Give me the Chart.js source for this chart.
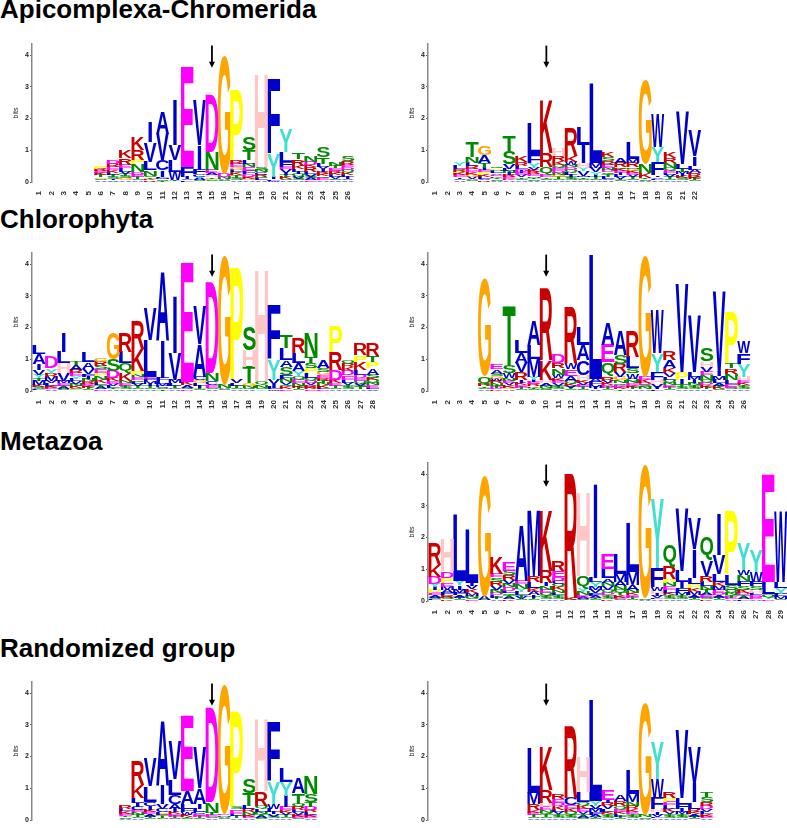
<!DOCTYPE html>
<html>
<head>
<meta charset="utf-8">
<script src="https://cdn.jsdelivr.net/npm/chart.js@4.4.0/dist/chart.umd.min.js"></script>
<style>
html, body { margin: 0; padding: 0; background: #fff; }
body { width: 787px; height: 828px; overflow: hidden; position: relative; font-family: "Liberation Sans", Arial, sans-serif; }
.title { position: absolute; left: 0; font-weight: bold; font-size: 26px; line-height: 26px; color: #000; white-space: nowrap; }
canvas { position: absolute; }
</style>
</head>
<body>
<div class="title" style="top:-4px">Apicomplexa-Chromerida</div>
<div class="title" style="top:206px">Chlorophyta</div>
<div class="title" style="top:428px">Metazoa</div>
<div class="title" style="top:635px">Randomized group</div>

<canvas id="apicoLeft"></canvas>
<canvas id="apicoRight"></canvas>
<canvas id="chloroLeft"></canvas>
<canvas id="chloroRight"></canvas>
<canvas id="metazoaRight"></canvas>
<canvas id="randomLeft"></canvas>
<canvas id="randomRight"></canvas>

<script>
// one string per position, letters listed bottom -> top, number = height in bits
const apicoLeftCols = [
    '', '', '', '', '',
    'A.05 S.05 G.05 T.06 K.06 E.07 R.07 P.09',
    'V.05 I.05 S.06 T.06 L.07 K.08 E.1 R.1 D.13',
    'A.06 G.06 S.06 T.07 V.08 L.1 E.12 R.2 K.26',
    'A.05 S.05 T.07 E.06 D.07 N.25 P.15 R.3 K.4',
    'R.05 K.05 T.05 S.05 N.17 L.26 V.62 I.65',
    'T.04 S.04 M.04 F.05 I.2 C.31 V.84 A.7',
    'S.02 T.03 W.26 L.37 V.5 I1.44',
    'L.05 V.05 I.06 F.31 E3.16',
    'S.05 A.06 Y.06 C.08 F.14 I.78 V1.42',
    'S.05 G.05 T.05 H.06 A.06 E.1 N.58 D1.83',
    'S.05 A.05 N.06 D.1 G3.72',
    'A.07 S.07 T.08 K.08 L.09 G.08 E.1 R.13 P2.2',
    'A.05 G.06 K.06 D.09 F.1 E.1 N.12 L.1 T.31 S.42',
    'A.05 L.06 Q.06 R.06 C.08 N.08 S.08 H2.95',
    'W.04 L.05 I.07 Y.73 F2.39',
    'A.05 S.05 K.06 T.06 I.06 V.12 E.08 F.16 L.3 Y.74',
    'A.05 S.06 V.06 Q.08 I.08 L.08 K.1 R.2 T.18',
    'E.05 A.06 S.06 V.07 L.08 R.14 K.08 D.1 N.2',
    'A.06 E.06 Q.06 K.07 R.08 I.08 V.07 L.1 T.21 S.31',
    'A.05 S.05 V.06 L.06 K.07 R.07 E.07 T.06 N.11',
    'A.05 V.05 I.06 L.07 K.08 Q.08 D.08 E.08 R.12 S.15'
];

const apicoRightCols = [
    '', '',
    'A.05 S.05 I.05 E.06 K.06 P.06 R.07 L.1 Y.12',
    'S.05 A.05 V.06 G.06 K.08 E.1 R.1 L.11 N.18 T.5',
    'R.05 V.05 L.06 K.06 P.08 E.08 I.07 T.16 A.24 G.29',
    'A.04 S.04 T.05 K.05 E.05 V.05 L.06 N.04 P.05 Q.06',
    'A.05 K.05 E.06 R.06 I.06 N.06 L.07 V.15 S.41 T.48',
    'A.05 S.05 T.05 V.06 E.06 I.06 D.07 L.1 R.13 K.22',
    'A.04 S.05 T.05 N.05 E.06 R.06 K.07 V.07 Y.16 F.24 L.99',
    'A.05 S.05 T.05 E.07 Q.24 R.44 K1.66',
    'A.05 S.05 T.06 G.06 N.07 D.08 E.08 Q.08 K.13 R.16 H.24',
    'A.05 S.06 T.06 I.06 L.07 Q.08 D.08 N.08 W.1 K.18 R.9',
    'A.05 S.05 T.05 M.05 V.15 Y.1 H.15 I.58 L.55',
    'A.05 S.05 T.06 I.07 Y.07 V.15 M.16 L2.5',
    'A.05 V.05 L.06 T.07 Q.07 D.07 N.07 E.1 R.13 S.12 K.16',
    'S.05 T.05 V.06 L.06 I.06 E.06 K.06 Q.06 R.15 A.16',
    'A.05 S.05 T.06 V.06 E.06 K.06 G.07 N.05 R.15 M.12 L.54',
    'A.04 S.05 T.05 K.15 N.27 G2.65',
    'A.05 L.05 V.05 I.05 F.42 Y.47 W1.05',
    'A.05 S.05 T.06 V.06 L.07 E.08 Q.08 N.16 R.16 K.19',
    'A.06 S.06 K.06 I.06 M.06 T.1 L.16 V1.65',
    'S.05 T.06 K.06 R.12 A.1 L.13 I.3 V.81'
];

const chloroLeftCols = [
    'F.06 S.06 K.06 M.15 T.07 Y.1 V.16 I.19 A.32 L.28',
    'A.05 E.06 K.06 L.07 V.07 M.14 R.1 Y.16 D.37',
    'S.05 A.06 T.06 E.07 M.08 V.24 H.31 L.37 I.63',
    'G.05 S.05 K.06 N.06 V.08 L.08 Y.08 E.1 R.1 A.16 T.13',
    'S.05 T.06 K.06 E.06 R.07 N.07 I.08 F.08 V.16 A.21 L.32',
    'D.05 A.06 T.07 L.08 K.1 N.12 P.1 E.1 S.1 R.14 G.1',
    'A.05 T.05 L.06 V.06 E.08 K.1 D.24 S.36 G.82',
    'A.05 S.06 T.06 E.07 N.07 K.25 Q.31 L.37 R.6',
    'A.05 S.05 T.06 V.06 L.06 Q.07 E.08 N.08 P.11 K.7 R.87',
    'A.05 S.05 T.06 I.07 M.07 F.07 E.08 L1.16 V1.0',
    'T.05 S.05 C.06 M.07 L.08 F.1 I1.2 A2.16',
    'A.05 C.05 T.06 L.08 M.11 V.84 I1.79',
    'D.05 Q.05 A.09 K.1 E3.76',
    'S.05 T.05 I.07 L.08 G.09 C.11 A1.03 V1.2',
    'A.05 S.05 E.08 C.12 N.26 D2.88',
    'S.05 A.05 N.1 G4.09',
    'A.05 S.05 T.06 L.08 V.1 P3.55',
    'A.05 Q.05 N.07 G.07 T.52 H.53 S.76',
    'Y.05 S.05 N.08 Q.12 H3.52',
    'W.05 L.06 I.1 V.14 Y.63 F1.7',
    'E.06 K.07 Q.07 V.09 N.1 F.12 S.26 A.21 L.37 T.42',
    'S.05 T.06 K.06 N.08 E.1 Q.11 Y.16 A.26 L.31 R.47',
    'E.05 K.06 R.07 V.07 D.08 Q.08 L.14 P.16 S.16 T.21 N.76',
    'D.05 L.06 K.07 N.07 T.08 R.09 E.09 G.1 S.13 A.23',
    'A.05 S.05 T.06 E.09 K.1 D.31 R.55 P.82',
    'A.05 S.06 T.07 V.08 L.1 E.13 D.14 K.12 R.1 Q.09',
    'A.05 T.06 S.06 V.08 Q.08 E.07 D.1 L.16 K.26 P.21 R.37',
    'V.05 L.06 E.07 N.08 Q.08 K.08 S.1 A.2 P.2 T.18 R.38'
];

const chloroRightCols = [
    '', '', '', '',
    'A.05 S.05 T.05 R.06 Q.24 G3.07',
    'K.05 D.06 T.06 N.07 R.07 W.08 G.08 S.08 A.13 E.16',
    'A.05 G.06 K.07 V.07 E.07 N.08 W.16 S.26 T1.9',
    'S.05 T.06 E.07 K.08 I.08 R.25 V.3 A.32 L.4',
    'S.05 T.05 K.05 R.06 E.07 I.07 Y.1 M.55 L.45 A.79',
    'Q.05 S.05 N.07 A.08 H.1 K.63 R2.24',
    'A.05 S.06 T.06 V.07 E.08 K.09 W.1 N.21 R.16 D.26',
    'S.05 T.06 V.06 K.08 Q.08 A.14 E.21 W.19 R1.77',
    'S.06 T.06 E.07 V.07 K.08 H.17 C.47 A.47 L.58',
    'V.05 I.06 M.08 F.1 A.1 L3.9',
    'S.05 T.06 D.07 K.08 V.07 R.13 Q.44 E.56 A.68',
    'T.05 K.06 E.07 Q.07 N.08 G.1 V.16 R.26 S.3 A.76',
    'A.05 T.06 K.06 E.07 N.07 Q.08 W.16 S.16 L.37 R.79',
    'A.05 N.06 S.07 D.07 K.1 E.1 G3.84',
    'L.05 I.06 V.1 H.14 F.26 Y.58 W1.37',
    'S.05 T.06 E.07 N.08 Q.08 L.09 V.13 K.16 A.26 R.26',
    'A.05 S.06 T.1 I.14 P.26 V2.79',
    'A.05 S.06 T.07 N.08 I.09 M.1 L.16 V1.79',
    'A.05 T.06 K.07 D.08 Q.08 N.17 E.1 V.16 H.16 S.42',
    'S.05 K.06 T.06 A.08 L.1 M.11 I.15 V2.53',
    'A.05 S.06 E.1 L.13 N.21 R.16 T.16 P1.63',
    'A.05 S.06 T.07 K.08 E.09 H.1 Y.4 F.34 W.37'
];

const metazoaRightCols = [
    'F.05 S.06 A.07 E.07 P.1 I.1 Y.1 D.22 K.35 R.7',
    'K.05 S.06 R.07 F.07 A.1 M.1 E.13 P.15 D.2 H1.0',
    'S.05 T.06 A.07 F.08 M.1 I.13 Y.15 L2.1',
    'E.05 S.05 N.07 M.08 K.12 V.1 I.1 L1.7',
    'S.04 A.1 G3.84',
    'A.05 T.06 L.07 D.08 N.1 V.1 R.15 S.14 E.1 K.53',
    'K.05 A.06 T.07 Q.07 L.08 D.1 N.12 V.12 R.14 S.15 E.28',
    'S.05 V.06 T.07 L.1 Y.1 N.15 E.1 A1.74',
    'S.05 T.06 I.07 A.1 K.12 L.2 R.2 M2.1',
    'A.05 S.06 T.07 Q.08 E.1 N.1 I.1 R.4 K1.94',
    'A.05 S.06 T.07 L.08 N.08 K.1 Q.1 C.1 D.12 E.18 R.3',
    'Q.04 K.06 R3.9',
    'S.05 A.06 E.07 N.1 Y.1 Q.4 H2.64',
    'S.05 T.05 A.07 F.08 V.1 M.1 Y.14 L.15 I3.0',
    'K.05 S.06 T.07 D.08 Q.1 V.1 N.12 A.13 L.3 E.5',
    'S.05 E.06 K.07 T.08 Q.1 N.1 A.14 M.25 L.65',
    'S.05 T.06 E.07 K.07 N.1 A.15 M.4 L1.53',
    'A.04 S.05 G4.2',
    'A.05 L.05 V.06 I.07 H.1 W.1 F.6 Y2.18',
    'A.05 S.06 T.07 K.08 L.1 E.1 N.1 P.13 R.4 Q.68',
    'A.05 S.06 T.07 M.08 F.14 I.2 L.35 V1.98',
    'S.05 T.06 A.07 M.1 K.13 P.12 L.2 I.9 V.95',
    'K.05 S.06 E.07 A.08 T.1 N.1 L.14 R.2 V.5 Q.71',
    'S.05 T.06 A.07 D.08 E.1 M.12 K.12 L.25 V.6 I1.3',
    'A.05 E.06 T.07 N.08 Q.1 S.15 L.3 P2.01',
    'L.05 A.06 T.07 D.08 K.1 S.12 F.15 N.2 W.15 Y.86',
    'A.05 E.06 D.07 L.08 H.1 S.1 F.15 W.3 Y.7',
    'D.05 Y.06 Q.1 L.4 E3.39',
    'S.05 M.06 F.1 Y.2 L.2 W2.21'
];

const randomLeftCols = [
    '', '', '', '', '', '', '',
    'A.04 S.05 T.05 E.06 K.07 L.08 R.1',
    'A.05 S.05 T.06 N.08 E.08 C.1 I.12 L.16 K.4 R.75',
    'S.05 T.06 A.07 E.07 K.08 I.1 C.14 L.5 V.9',
    'S.05 T.06 G.06 L.08 C.1 V.15 I.6 A2.04',
    'S.05 T.06 E.07 K.08 I.1 A.14 C.3 L.5 V1.2',
    'S.05 T.05 K.06 W.08 F.1 L.16 A.4 E2.39',
    'S.05 T.06 E.07 C.08 L.1 I.14 A.5 V1.3',
    'A.05 S.05 E.06 T.06 N.34 D3.0',
    'S.05 A.05 N.05 D.05 G4.09',
    'A.06 T.06 L.08 E.13 S.07 P3.02',
    'A.05 E.06 K.06 N.08 R.1 L.1 T.4 S.45',
    'S.05 A.06 T.07 N.08 L.09 Q.1 R.45 H2.29',
    'A.05 S.06 V.07 I.08 L.1 W.14 Y.7 F1.88',
    'A.05 S.05 T.06 V.07 K.07 E.1 I.35 Y.45 L.45',
    'S.05 E.06 K.06 V.07 L.08 R.1 Q.1 T.33 A.5',
    'A.05 E.06 K.06 L.07 R.08 D.1 T.15 S.25 N.55'
];

const randomRightCols = [
    '', '', '', '', '', '', '', '',
    'A.05 S.05 T.06 E.07 K.08 R.2 M.35 L1.43',
    'A.05 S.05 T.06 Q.07 N.08 E.1 H.12 R.4 K1.39',
    'A.05 S.06 T.07 V.07 L.08 K.1 D.1 E.12 R.15',
    'A.05 S.06 T.07 Q.08 K.1 E.1 C.24 R2.25',
    'S.05 A.06 T.07 V.08 E.1 K.1 Q.12 L.3 H1.12',
    'S.05 T.05 A.07 F.08 M.1 V.1 Y.15 L3.17',
    'A.05 S.06 T.07 K.08 L.08 V.1 R.1 I.1 E.3',
    'S.05 T.06 L.07 K.08 E.08 Q.1 R.15 A.2',
    'A.05 S.06 T.07 E.08 K.08 R.1 N.12 M.25 L.75',
    'A.04 S.05 N.08 G3.51',
    'A.05 L.05 V.06 I.08 H.1 F.35 W.6 Y1.16',
    'A.05 S.06 T.07 V.08 K.1 L.1 E.1 P.13 R.2',
    'A.05 S.06 T.07 M.08 I.1 F.14 L.2 V2.14',
    'S.05 T.06 A.07 K.08 R.1 L.2 I.6 V1.11',
    'A.05 E.06 K.07 L.08 V.08 D.1 R.13 S.15 T.15'
];

const yTickValues = [0, 1, 2, 3, 4];
const yMaxBits = 4.35;
const arrowLeftPos = 15;
const arrowRightPos = 10;
const arrowFromBits = 4.3;
const arrowToBits = 3.6;

const residueColors = {
    A: '#0000cc', I: '#0000cc', L: '#0000cc', V: '#0000cc', M: '#0000cc', W: '#0000cc', F: '#0000cc', C: '#0000cc',
    K: '#cc0000', R: '#cc0000',
    S: '#008a00', T: '#008a00', N: '#008a00', Q: '#008a00',
    E: '#ff00ff', D: '#ff00ff',
    G: '#ffa500', P: '#ffff00', H: '#ffc6c6', Y: '#40e0d0'
};

// layout
const colStep = 12.35;
const firstColOffset = 7;
const axisWidth = 32;
const padTop = 6, padRight = 8, xAxisHeight = 18;
const plotHeight = 138;
const rowBaselines = [182, 391, 601, 820];
const glyphWidthFactor = 1.05;

function parseColumns(cols) {
    return cols.map(function(c) {
        if (!c) return [];
        return c.split(' ').map(function(tok) {
            return { ch: tok[0], h: parseFloat(tok.slice(1)) };
        });
    });
}

const glyphFont = 'bold 100px "Liberation Sans", Arial, Helvetica, sans-serif';
const glyphCache = {};
function glyphBox(ctx, ch) {
    if (!glyphCache[ch]) {
        ctx.save();
        ctx.font = glyphFont;
        const m = ctx.measureText(ch);
        glyphCache[ch] = {
            l: m.actualBoundingBoxLeft, r: m.actualBoundingBoxRight,
            a: m.actualBoundingBoxAscent, d: m.actualBoundingBoxDescent
        };
        ctx.restore();
    }
    return glyphCache[ch];
}

const logoPlugin = {
    id: 'logoLetters',
    afterDatasetsDraw(chart) {
        const ctx = chart.ctx;
        chart.data.datasets.forEach(function(ds, di) {
            const meta = chart.getDatasetMeta(di);
            meta.data.forEach(function(bar, i) {
                const ch = ds.letters[i];
                if (!ch) return;
                const p = bar.getProps(['x', 'y', 'base', 'width'], true);
                const h = p.base - p.y;
                if (h < 0.3) return;
                let w = p.width * glyphWidthFactor;
                if (ch === 'I') w = p.width * 0.3;
                const g = glyphBox(ctx, ch);
                const gw = g.l + g.r, gh = g.a + g.d;
                ctx.save();
                ctx.font = glyphFont;
                ctx.fillStyle = residueColors[ch] || '#000';
                ctx.textAlign = 'left';
                ctx.textBaseline = 'alphabetic';
                ctx.translate(p.x - w / 2, p.y);
                ctx.scale(w / gw, h / gh);
                ctx.fillText(ch, g.l, g.a);
                ctx.restore();
            });
        });
        // arrow marking the site
        const pos = chart.options.plugins.logoLetters.arrowPos;
        const xs = chart.scales.x, ys = chart.scales.y;
        const ax = xs.getPixelForValue(pos);
        const y0 = ys.getPixelForValue(arrowFromBits);
        const y1 = ys.getPixelForValue(arrowToBits);
        ctx.save();
        ctx.strokeStyle = '#000';
        ctx.fillStyle = '#000';
        ctx.lineWidth = 1.8;
        ctx.beginPath();
        ctx.moveTo(ax, y0);
        ctx.lineTo(ax, y1 - 5);
        ctx.stroke();
        ctx.beginPath();
        ctx.moveTo(ax - 3, y1 - 6);
        ctx.lineTo(ax + 3, y1 - 6);
        ctx.lineTo(ax, y1);
        ctx.closePath();
        ctx.fill();
        ctx.restore();
    }
};

function makeLogo(id, cols, row, side, arrowPos) {
    const columns = parseColumns(cols);
    const n = columns.length;
    const depth = Math.max.apply(null, columns.map(function(c) { return c.length; }));
    const datasets = [];
    for (let k = 0; k < depth; k++) {
        datasets.push({
            data: columns.map(function(c, i) { return { x: i + 1, y: c[k] ? c[k].h : 0 }; }),
            letters: columns.map(function(c) { return c[k] ? c[k].ch : ''; }),
            backgroundColor: 'rgba(0,0,0,0)',
            borderWidth: 0
        });
    }
    const xMin = 1 - firstColOffset / colStep;
    const xMax = n + 0.5;
    const chartW = colStep * (xMax - xMin);
    const canvas = document.getElementById(id);
    const cw = Math.round(axisWidth + chartW + padRight);
    const chh = padTop + plotHeight + xAxisHeight;
    canvas.width = cw;
    canvas.height = chh;
    canvas.style.width = cw + 'px';
    canvas.style.height = chh + 'px';
    canvas.style.left = (side === 'left' ? 0 : 396) + 'px';
    canvas.style.top = (rowBaselines[row] - padTop - plotHeight) + 'px';

    new Chart(canvas, {
        type: 'bar',
        data: { datasets: datasets },
        options: {
            responsive: false,
            animation: false,
            devicePixelRatio: 1,
            layout: { padding: { top: padTop, right: padRight, left: 0, bottom: 0 } },
            datasets: { bar: { categoryPercentage: 1, barPercentage: 1 } },
            plugins: {
                legend: { display: false },
                tooltip: { enabled: false },
                logoLetters: { arrowPos: arrowPos }
            },
            scales: {
                x: {
                    type: 'linear',
                    stacked: true,
                    offset: false,
                    min: xMin,
                    max: xMax,
                    grid: { display: false, offset: false },
                    border: { display: false },
                    afterBuildTicks: function(s) {
                        const t = [];
                        for (let i = 1; i <= n; i++) t.push({ value: i });
                        s.ticks = t;
                    },
                    afterFit: function(s) { s.height = xAxisHeight; },
                    ticks: {
                        autoSkip: false,
                        minRotation: 90,
                        maxRotation: 90,
                        padding: 1,
                        color: '#333',
                        font: { size: 8, weight: 'bold', family: '"Liberation Sans", Arial, sans-serif' },
                        callback: function(v) { return String(v); }
                    }
                },
                y: {
                    stacked: true,
                    min: 0,
                    max: yMaxBits,
                    afterBuildTicks: function(s) {
                        s.ticks = yTickValues.map(function(v) { return { value: v }; });
                    },
                    afterFit: function(s) { s.width = axisWidth; },
                    grid: { drawOnChartArea: false, drawTicks: true, tickLength: 2, color: '#555', lineWidth: 1 },
                    border: { display: true, color: '#888', width: 1.5 },
                    ticks: {
                        padding: 1,
                        color: '#222',
                        font: { size: 7, weight: 'bold', family: '"Liberation Sans", Arial, sans-serif' }
                    },
                    title: {
                        display: true,
                        text: 'bits',
                        color: '#222',
                        padding: { top: 12, bottom: 0 },
                        font: { size: 7, family: '"Liberation Sans", Arial, sans-serif' }
                    }
                }
            }
        },
        plugins: [logoPlugin]
    });
}

makeLogo('apicoLeft', apicoLeftCols, 0, 'left', arrowLeftPos);
makeLogo('apicoRight', apicoRightCols, 0, 'right', arrowRightPos);
makeLogo('chloroLeft', chloroLeftCols, 1, 'left', arrowLeftPos);
makeLogo('chloroRight', chloroRightCols, 1, 'right', arrowRightPos);
makeLogo('metazoaRight', metazoaRightCols, 2, 'right', arrowRightPos);
makeLogo('randomLeft', randomLeftCols, 3, 'left', arrowLeftPos);
makeLogo('randomRight', randomRightCols, 3, 'right', arrowRightPos);
</script>
</body>
</html>
